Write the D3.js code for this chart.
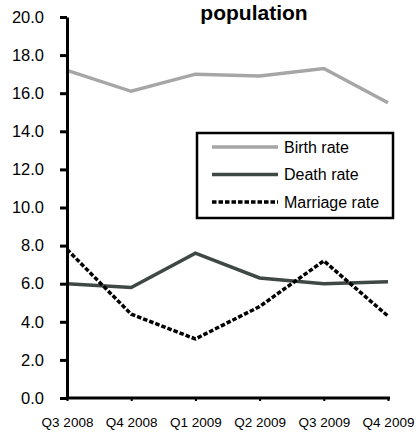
<!DOCTYPE html>
<html><head><meta charset="utf-8">
<script src="https://cdn.jsdelivr.net/npm/d3@7/dist/d3.min.js"></script>
<style>body{margin:0;background:#fff}svg{display:block;font-family:Arial,"Liberation Sans",sans-serif}</style>
</head><body><svg id="c" width="417" height="434"></svg>
<script>
const categories = ["Q3 2008","Q4 2008","Q1 2009","Q2 2009","Q3 2009","Q4 2009"];
const birthRate = [17.2, 16.1, 17.0, 16.9, 17.3, 15.5];
const deathRate = [6.0, 5.8, 7.6, 6.3, 6.0, 6.1];
const marriageRate = [7.8, 4.4, 3.1, 4.8, 7.2, 4.3];
const yTicks = [0,2,4,6,8,10,12,14,16,18,20];
const seriesNames = ["Birth rate","Death rate","Marriage rate"];
const titleText = "population";

const svg = d3.select("#c");
const x = d3.scalePoint().domain(categories).range([67, 388]);
const y = d3.scaleLinear().domain([0, 20]).range([398, 17]);

const series = [
  {name: seriesNames[0], values: birthRate, color: "#a6a6a6", dash: null},
  {name: seriesNames[1], values: deathRate, color: "#404846", dash: null},
  {name: seriesNames[2], values: marriageRate, color: "#000", dash: "4.5,2"}
];

// title
svg.append("text").attr("x", 254).attr("y", 19.5).attr("text-anchor","middle")
  .attr("font-size", 21).attr("font-weight","bold").text(titleText);

// lines
const line = d3.line().x((d,i)=>x(categories[i])).y(d=>y(d));
series.forEach(s=>{
  svg.append("path").datum(s.values).attr("d", line).attr("fill","none")
    .attr("stroke", s.color).attr("stroke-width", 3.5)
    .attr("stroke-dasharray", s.dash);
});

// y axis
const yAxis = svg.append("g").attr("transform","translate(67,0)")
  .call(d3.axisLeft(y).tickValues(yTicks).tickSize(7).tickSizeOuter(0).tickFormat(d3.format(".1f")));
yAxis.select(".domain").attr("stroke","#000").attr("stroke-width",3);
yAxis.selectAll(".tick line").attr("stroke","#000").attr("stroke-width",3);
yAxis.selectAll(".tick text").attr("font-size",16.5).attr("fill","#000").attr("x",-23)
  .attr("font-family","Arial, 'Liberation Sans', sans-serif");

// x axis
const xAxis = svg.append("g").attr("transform","translate(0,398)")
  .call(d3.axisBottom(x).tickSize(3).tickSizeOuter(0));
xAxis.select(".domain").attr("stroke","#000").attr("stroke-width",3).attr("d","M67,0H390");
xAxis.selectAll(".tick line").attr("stroke","#000").attr("stroke-width",2);
xAxis.selectAll(".tick text").attr("font-size",13.5).attr("fill","#000").attr("y",19)
  .attr("font-family","Arial, 'Liberation Sans', sans-serif");

// legend
const lg = svg.append("g");
lg.append("rect").attr("x",197).attr("y",133).attr("width",196).attr("height",85)
  .attr("fill","#fff").attr("stroke","#000").attr("stroke-width",2.5);
series.forEach((s,i)=>{
  const cy = 147 + i*27.5;
  lg.append("line").attr("x1",212).attr("x2",278).attr("y1",cy).attr("y2",cy)
    .attr("stroke",s.color).attr("stroke-width",3.5).attr("stroke-dasharray",s.dash);
  lg.append("text").attr("x",284).attr("y",cy+5.5).attr("font-size",16).attr("fill","#000").text(s.name);
});
</script></body></html>
